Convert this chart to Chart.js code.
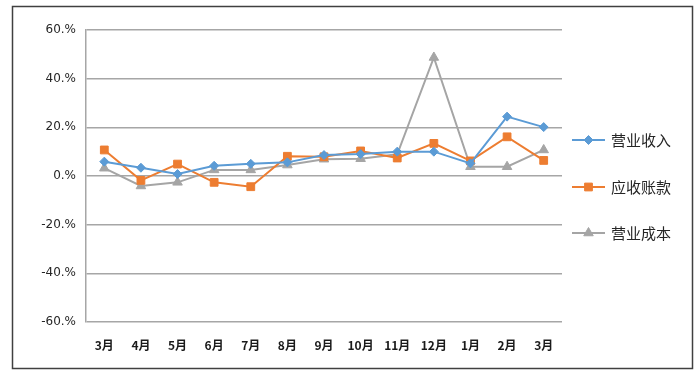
<!DOCTYPE html>
<html>
<head>
<meta charset="utf-8">
<script src="https://cdn.jsdelivr.net/npm/chart.js@4/dist/chart.umd.min.js"></script>
<style>
  html, body { margin: 0; padding: 0; background: #fff; }
  #wrap { width: 700px; height: 373px; position: relative; }
</style>
</head>
<body>
<div id="wrap"><canvas id="growthChart"></canvas></div>
<script>
const months = ['3月', '4月', '5月', '6月', '7月', '8月', '9月', '10月', '11月', '12月', '1月', '2月', '3月'];
const revenue = [5.9, 3.4, 0.8, 4.2, 5.0, 5.6, 8.6, 9.0, 10.0, 10.0, 5.2, 24.4, 20.1];
const receivables = [10.7, -1.8, 4.9, -2.6, -4.4, 8.1, 7.9, 10.3, 7.4, 13.4, 6.2, 16.1, 6.4];
const costs = [3.2, -4.1, -2.6, 2.5, 2.5, 4.5, 6.9, 7.1, 8.9, 48.7, 3.8, 3.8, 10.7];
const yTicks = [-60, -40, -20, 0, 20, 40, 60];

const seriesNames = ['营业收入', '应收账款', '营业成本'];
const colors = ['#5B9BD5', '#ED7D31', '#A5A5A5'];
const markers = ['rectRot', 'rect', 'triangle'];
const markerSizes = [4.5, 5.5, 5.5];

const ctx = document.getElementById('growthChart').getContext('2d');

// marco exterior + leyenda dibujada a mano (linea + marcador a la derecha)
const framePlugin = {
  id: 'frameLegend',
  beforeDraw(chart) {
    const c = chart.ctx;
    c.save();
    c.fillStyle = '#fff';
    c.fillRect(0, 0, chart.width, chart.height);
    c.restore();
  },
  afterDraw(chart) {
    const c = chart.ctx;
    c.save();
    c.strokeStyle = '#404040';
    c.lineWidth = 1.5;
    c.strokeRect(12.5, 6.5, 680, 362);

    const rowsY = [140, 187, 233];
    chart.data.datasets.forEach((ds, i) => {
      const y = rowsY[i];
      c.strokeStyle = ds.borderColor;
      c.fillStyle = ds.borderColor;
      c.lineWidth = 2;
      c.beginPath();
      c.moveTo(572, y);
      c.lineTo(605, y);
      c.stroke();
      c.lineWidth = 1;
      Chart.helpers.drawPoint(c, {
        pointStyle: ds.pointStyle,
        radius: ds.pointRadius,
        borderWidth: 1
      }, 588.5, y);
      c.fillStyle = '#262626';
      c.font = '15px "Noto Sans CJK SC"';
      c.textBaseline = 'middle';
      c.textAlign = 'left';
      c.fillText(ds.label, 611, y);
    });
    c.restore();
  }
};

const datasets = [revenue, receivables, costs].map((vals, i) => ({
  label: seriesNames[i],
  data: vals,
  borderColor: colors[i],
  backgroundColor: colors[i],
  pointBackgroundColor: colors[i],
  pointBorderColor: colors[i],
  borderWidth: 2,
  pointStyle: markers[i],
  pointRadius: markerSizes[i],
  pointBorderWidth: 1,
  tension: 0
}));

new Chart(ctx, {
  type: 'line',
  data: { labels: months, datasets: datasets },
  options: {
    responsive: true,
    maintainAspectRatio: false,
    animation: false,
    layout: { padding: { left: 20, right: 138, top: 30, bottom: 10 } },
    plugins: {
      legend: { display: false },
      tooltip: { enabled: false }
    },
    scales: {
      x: {
        offset: true,
        grid: { display: false, drawTicks: false },
        border: { display: false },
        ticks: {
          color: '#1a1a1a',
          padding: 16,
          font: { family: '"Noto Sans CJK SC"', size: 12, weight: 'bold' },
          maxRotation: 0,
          autoSkip: false
        },
        afterFit(scale) { scale.height = 41; }
      },
      y: {
        min: -60,
        max: 60,
        afterBuildTicks(scale) { scale.ticks = yTicks.map(v => ({ value: v })); },
        grid: { color: '#A6A6A6', lineWidth: 1.5, drawTicks: false },
        border: { display: true, color: '#A6A6A6', width: 1.5 },
        ticks: {
          color: '#262626',
          padding: 10,
          font: { family: '"DejaVu Sans"', size: 12 },
          callback: v => v + '.%'
        },
        afterFit(scale) { scale.width = 66; }
      }
    }
  },
  plugins: [framePlugin]
});
</script>
</body>
</html>
